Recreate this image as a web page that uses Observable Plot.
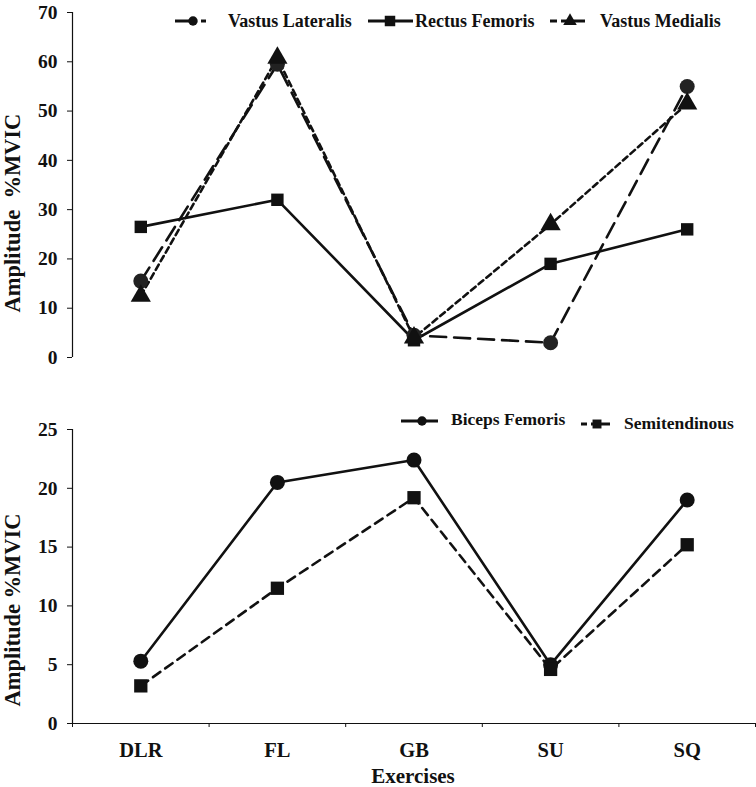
<!DOCTYPE html>
<html>
<head>
<meta charset="utf-8">
<script src="https://cdn.jsdelivr.net/npm/d3@7"></script>
<script src="https://cdn.jsdelivr.net/npm/@observablehq/plot@0.6"></script>
<style>
  html, body { margin: 0; padding: 0; background: #fff; }
  #root { position: relative; width: 756px; height: 787px; overflow: hidden; font-family: "Liberation Serif", "Times New Roman", serif; font-weight: bold; color: #111; }
  .panel { position: absolute; left: 0; }
  .ylab { position: absolute; font-size: 22.5px; white-space: pre; transform: translate(-50%, -50%) rotate(-90deg); }
  .leg { position: absolute; font-size: 18px; white-space: nowrap; line-height: 1; }
  .legsvg { position: absolute; overflow: visible; }
</style>
</head>
<body>
<div id="root"></div>
<script>
// ---- data ----
const categories = ["DLR", "FL", "GB", "SU", "SQ"];
const vastusLateralis = [15.5, 59.5, 4.5, 3.0, 55.0];
const rectusFemoris   = [26.5, 32.0, 3.5, 19.0, 26.0];
const vastusMedialis  = [12.5, 60.8, 4.0, 27.0, 51.5];
const bicepsFemoris   = [5.3, 20.5, 22.4, 5.0, 19.0];
const semitendinous   = [3.2, 11.5, 19.2, 4.6, 15.2];
const topTicks = [0, 10, 20, 30, 40, 50, 60, 70];
const bottomTicks = [0, 5, 10, 15, 20, 25];

const ink = "#111";
const rows = categories.map((c, i) => ({
  i, c,
  vl: vastusLateralis[i], rf: rectusFemoris[i], vm: vastusMedialis[i],
  bf: bicepsFemoris[i], st: semitendinous[i]
}));
const idx = categories.map((c, i) => i);
const bounds = d3.range(categories.length + 1).map(i => i - 0.5);

const root = document.getElementById("root");
const fontStyle = {fontFamily: "Liberation Serif, Times New Roman, serif", fontWeight: "bold", fontSize: "19px", color: ink, background: "transparent", overflow: "visible"};

// ---- top panel ----
const topPlot = Plot.plot({
  width: 756, height: 375,
  marginLeft: 72, marginRight: 1, marginTop: 12, marginBottom: 18,
  style: fontStyle,
  x: {type: "linear", domain: [-0.5, categories.length - 0.5], axis: null},
  y: {domain: [0, 70], axis: null},
  marks: [
    Plot.ruleX([-0.5], {stroke: ink, strokeWidth: 1.2}),
    Plot.axisY({ticks: topTicks, tickSize: 5, tickPadding: 10, label: null, stroke: ink, fill: ink, fontSize: 19.5}),
    Plot.line(rows, {x: "i", y: "rf", stroke: ink, strokeWidth: 2.6}),
    Plot.line(rows, {x: "i", y: "vl", stroke: ink, strokeWidth: 2.6, strokeDasharray: "16,8"}),
    Plot.line(rows, {x: "i", y: "vm", stroke: ink, strokeWidth: 2.6, strokeDasharray: "6,4"}),
    Plot.dot(rows, {x: "i", y: "rf", symbol: "square", r: 7, fill: ink, stroke: "none"}),
    Plot.dot(rows, {x: "i", y: "vl", symbol: "circle", r: 7.5, fill: "#222", stroke: "none"}),
    Plot.dot(rows, {x: "i", y: "vm", symbol: "triangle", r: 7.5, fill: ink, stroke: "none"})
  ]
});
topPlot.classList.add("panel");
topPlot.style.top = "0px";
root.appendChild(topPlot);

// ---- bottom panel ----
const bottomPlot = Plot.plot({
  width: 756, height: 412,
  marginLeft: 72, marginRight: 1, marginTop: 54, marginBottom: 64,
  style: fontStyle,
  x: {type: "linear", domain: [-0.5, categories.length - 0.5], axis: null},
  y: {domain: [0, 25], axis: null},
  marks: [
    Plot.ruleX([-0.5], {stroke: ink, strokeWidth: 1.2}),
    Plot.ruleY([0], {stroke: ink, strokeWidth: 1.2}),
    Plot.axisY({ticks: bottomTicks, tickSize: 5, tickPadding: 10, label: null, stroke: ink, fill: ink, fontSize: 19.5}),
    Plot.axisX({ticks: bounds, tickSize: 4, tickFormat: () => "", label: null, stroke: ink}),
    Plot.axisX({ticks: idx, tickSize: 0, tickPadding: 19, tickFormat: i => categories[i], label: null, fill: ink, fontSize: 20.5}),
    Plot.line(rows, {x: "i", y: "bf", stroke: ink, strokeWidth: 2.6}),
    Plot.line(rows, {x: "i", y: "st", stroke: ink, strokeWidth: 2.6, strokeDasharray: "9,6"}),
    Plot.dot(rows, {x: "i", y: "bf", symbol: "circle", r: 7.5, fill: ink, stroke: "none"}),
    Plot.dot(rows, {x: "i", y: "st", symbol: "square", r: 7.5, fill: ink, stroke: "none"})
  ]
});
bottomPlot.classList.add("panel");
bottomPlot.style.top = "375px";
root.appendChild(bottomPlot);

// ---- axis titles ----
function addDiv(cls, text, left, topPx) {
  const d = document.createElement("div");
  d.className = cls;
  d.textContent = text;
  d.style.left = left + "px";
  d.style.top = topPx + "px";
  root.appendChild(d);
  return d;
}
addDiv("ylab", "Amplitude  %MVIC", 13, 213);
addDiv("ylab", "Amplitude %MVIC", 13, 610);
const xt = addDiv("leg", "Exercises", 413, 766);
xt.style.fontSize = "21px";
xt.style.transform = "translateX(-50%)";

// ---- legends ----
const NS = "http://www.w3.org/2000/svg";
function sample(left, cy, width, segs, symbol) {
  const svg = document.createElementNS(NS, "svg");
  svg.setAttribute("class", "legsvg");
  svg.setAttribute("width", width);
  svg.setAttribute("height", 20);
  svg.style.left = left + "px";
  svg.style.top = (cy - 10) + "px";
  for (const [a, b] of segs) {
    const l = document.createElementNS(NS, "line");
    l.setAttribute("x1", a); l.setAttribute("x2", b);
    l.setAttribute("y1", 10); l.setAttribute("y2", 10);
    l.setAttribute("stroke", ink); l.setAttribute("stroke-width", 3);
    svg.appendChild(l);
  }
  const sym = d3.symbol().type(symbol.type).size(symbol.size)();
  const p = document.createElementNS(NS, "path");
  p.setAttribute("d", sym);
  p.setAttribute("transform", `translate(${symbol.x},10)`);
  p.setAttribute("fill", ink);
  svg.appendChild(p);
  root.appendChild(svg);
}
function legText(text, left, cy, size) {
  const d = addDiv("leg", text, left, cy);
  d.style.transform = "translateY(-50%)";
  if (size) d.style.fontSize = size + "px";
}
// top legend
sample(175, 21, 46, [[0, 14], [26, 31]], {type: d3.symbolCircle, x: 18, size: 70});
legText("Vastus Lateralis", 228, 21);
sample(368, 21, 46, [[0, 45]], {type: d3.symbolSquare, x: 22, size: 110});
legText("Rectus Femoris", 415, 21);
sample(550, 21, 36, [[0, 7], [11, 35]], {type: d3.symbolTriangle, x: 20, size: 80});
legText("Vastus Medialis", 600, 21);
// bottom legend
sample(401, 421, 38, [[0, 37]], {type: d3.symbolCircle, x: 21, size: 70});
legText("Biceps Femoris", 451, 420, 17.5);
sample(581, 424, 30, [[0, 6], [10, 29]], {type: d3.symbolSquare, x: 16, size: 80});
legText("Semitendinous", 624, 424, 17.5);
</script>
</body>
</html>
